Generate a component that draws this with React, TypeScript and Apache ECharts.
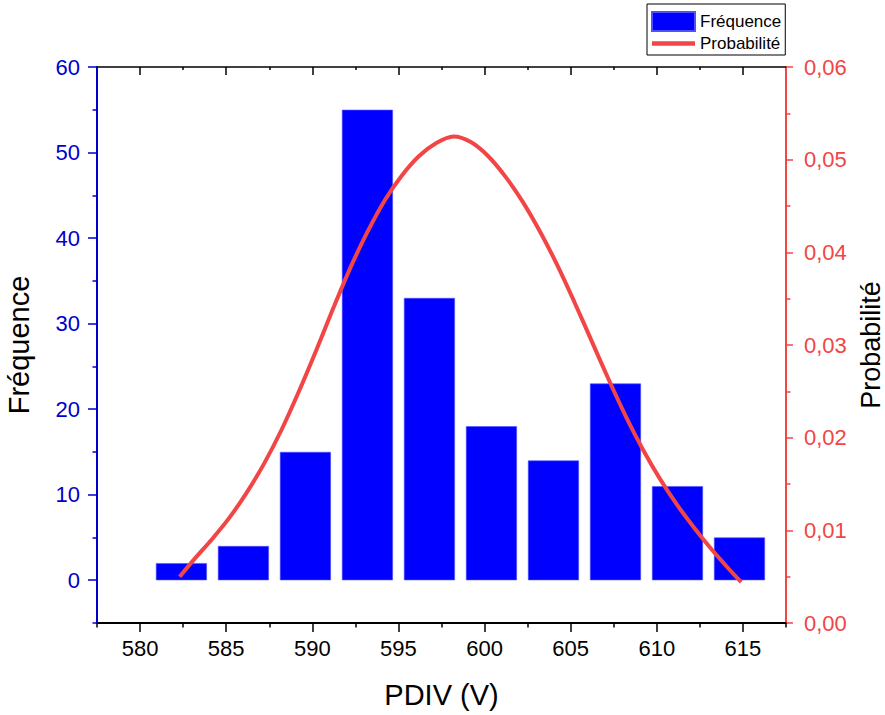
import React, { useEffect, useRef } from "react";
import * as echarts from "echarts";

const binCenters = [582.4, 586.0, 589.6, 593.2, 596.8, 600.4, 604.0, 607.6, 611.2, 614.8];
const frequencies = [2, 4, 15, 55, 33, 18, 14, 23, 11, 5];

const curveX = [582.3, 583.2, 584.2, 585.2, 586.2, 587.2, 588.2, 589.2, 590.2, 591.2, 592.2, 593.2, 594.2, 595.2, 596.2, 597.2, 598.2, 599.2, 600.2, 601.2, 602.2, 603.2, 604.2, 605.2, 606.2, 607.2, 608.2, 609.2, 610.2, 611.2, 612.2, 613.2, 614.2, 614.9];
const curveY = [0.005, 0.007, 0.0091, 0.0114, 0.0141, 0.0172, 0.0208, 0.0249, 0.0293, 0.0339, 0.0383, 0.0422, 0.0456, 0.0483, 0.0504, 0.0518, 0.0525, 0.0519, 0.0504, 0.0482, 0.0455, 0.0423, 0.0387, 0.0347, 0.0305, 0.0263, 0.0223, 0.0187, 0.0155, 0.0127, 0.0102, 0.0079, 0.0058, 0.0044];

const xMajorTicks = [580, 585, 590, 595, 600, 605, 610, 615];
const xMinorTicks = [577.5, 582.5, 587.5, 592.5, 597.5, 602.5, 607.5, 612.5, 617.5];
const leftMajorTicks = [0, 10, 20, 30, 40, 50, 60];
const leftMinorTicks = [-5, 5, 15, 25, 35, 45, 55];
const rightMajorTicks = [0, 0.01, 0.02, 0.03, 0.04, 0.05, 0.06];
const rightMinorTicks = [0.005, 0.015, 0.025, 0.035, 0.045, 0.055];

const FONT = "'Liberation Sans', Arial, sans-serif";
const BLUE = "#0000cc";
const RED = "#f24545";

export default function App() {
  const ref = useRef<HTMLDivElement>(null);
  useEffect(() => {
    if (!ref.current) return;
    const chart = echarts.init(ref.current, null, { renderer: "svg" });
    const xBase = { type: "value", min: 577.5, max: 617.5, gridIndex: 0, splitLine: { show: false } };
    chart.setOption({
      animation: false,
      backgroundColor: "#fff",
      textStyle: { fontFamily: FONT },
      grid: { left: 97, right: 99, top: 67, bottom: 92, containLabel: false, outerBoundsMode: "none" },
      legend: {
        left: 647,
        top: 4,
        orient: "vertical",
        borderColor: "#000",
        borderWidth: 1,
        padding: [7, 4, 3, 4],
        itemGap: 3,
        itemWidth: 43,
        itemHeight: 19,
        textStyle: { fontFamily: FONT, fontSize: 17, color: "#000" },
        data: [
          { name: "Fréquence", icon: "rect" },
          { name: "Probabilité", icon: "path://M0,0 L44,0 L44,4.5 L0,4.5 Z" },
        ],
      },
      xAxis: [
        {
          ...xBase,
          position: "bottom",
          name: "PDIV (V)",
          nameLocation: "middle",
          nameGap: 57,
          nameTextStyle: { fontFamily: FONT, fontSize: 29, color: "#000" },
          axisLine: { show: true, onZero: false, lineStyle: { color: "#000", width: 2 } },
          axisTick: { show: true, inside: false, length: 9, customValues: xMajorTicks, lineStyle: { color: "#000", width: 1.5 } },
          axisLabel: { show: true, customValues: xMajorTicks, fontSize: 22, color: "#000", margin: 14, fontFamily: FONT },
        },
        {
          ...xBase,
          position: "bottom",
          axisLine: { show: false, onZero: false },
          axisTick: { show: true, inside: false, length: 4.5, customValues: xMinorTicks, lineStyle: { color: "#000", width: 1.5 } },
          axisLabel: { show: false },
        },
        {
          ...xBase,
          position: "top",
          axisLine: { show: true, onZero: false, lineStyle: { color: "#000", width: 1.5 } },
          axisTick: { show: true, inside: true, length: 8, customValues: xMajorTicks, lineStyle: { color: "#000", width: 1.5 } },
          axisLabel: { show: false },
        },
        {
          ...xBase,
          position: "top",
          axisLine: { show: false, onZero: false },
          axisTick: { show: true, inside: true, length: 3, customValues: xMinorTicks.slice(1, -1), lineStyle: { color: "#000", width: 1.5 } },
          axisLabel: { show: false },
        },
      ],
      yAxis: [
        {
          type: "value",
          position: "left",
          min: -5,
          max: 60,
          splitLine: { show: false },
          name: "Fréquence",
          nameLocation: "middle",
          nameRotate: 90,
          nameGap: 64,
          nameTextStyle: { fontFamily: FONT, fontSize: 29, color: "#000" },
          axisLine: { show: true, onZero: false, lineStyle: { color: BLUE, width: 2 } },
          axisTick: { show: true, inside: false, length: 9, customValues: leftMajorTicks, lineStyle: { color: BLUE, width: 1.5 } },
          axisLabel: { show: true, customValues: leftMajorTicks, fontSize: 22, color: BLUE, margin: 17, fontFamily: FONT },
        },
        {
          type: "value",
          position: "left",
          min: -5,
          max: 60,
          splitLine: { show: false },
          axisLine: { show: false, onZero: false },
          axisTick: { show: true, inside: false, length: 4.5, customValues: leftMinorTicks, lineStyle: { color: BLUE, width: 1.5 } },
          axisLabel: { show: false },
        },
        {
          type: "value",
          position: "right",
          min: 0,
          max: 0.06,
          splitLine: { show: false },
          name: "Probabilité",
          nameLocation: "middle",
          nameRotate: 90,
          nameGap: 69,
          nameTextStyle: { fontFamily: FONT, fontSize: 27, lineHeight: 24, color: "#000" },
          axisLine: { show: true, onZero: false, lineStyle: { color: RED, width: 2 } },
          axisTick: { show: true, inside: false, length: 7, customValues: rightMajorTicks, lineStyle: { color: RED, width: 1.5 } },
          axisLabel: {
            show: true,
            customValues: rightMajorTicks,
            fontSize: 22,
            color: RED,
            margin: 18,
            fontFamily: FONT,
            formatter: (v: number) => v.toFixed(2).replace(".", ","),
          },
        },
        {
          type: "value",
          position: "right",
          min: 0,
          max: 0.06,
          splitLine: { show: false },
          axisLine: { show: false, onZero: false },
          axisTick: { show: true, inside: false, length: 4.5, customValues: rightMinorTicks, lineStyle: { color: RED, width: 1.5 } },
          axisLabel: { show: false },
        },
      ],
      series: [
        {
          name: "Fréquence",
          type: "bar",
          xAxisIndex: 0,
          yAxisIndex: 0,
          barWidth: 51,
          itemStyle: { color: "#0000ff", borderColor: "#5050ff", borderWidth: 0.6 },
          data: binCenters.map((x, i) => [x, frequencies[i]]),
          z: 2,
        },
        {
          name: "Probabilité",
          type: "line",
          xAxisIndex: 0,
          yAxisIndex: 2,
          smooth: 0.3,
          symbol: "none",
          showSymbol: false,
          lineStyle: { color: RED, width: 4 },
          itemStyle: { color: RED },
          data: curveX.map((x, i) => [x, curveY[i]]),
          z: 3,
        },
      ],
    });
    return () => chart.dispose();
  }, []);
  return <div ref={ref} style={{ width: 885, height: 715, position: "absolute", left: 0, top: 0 }} />;
}
